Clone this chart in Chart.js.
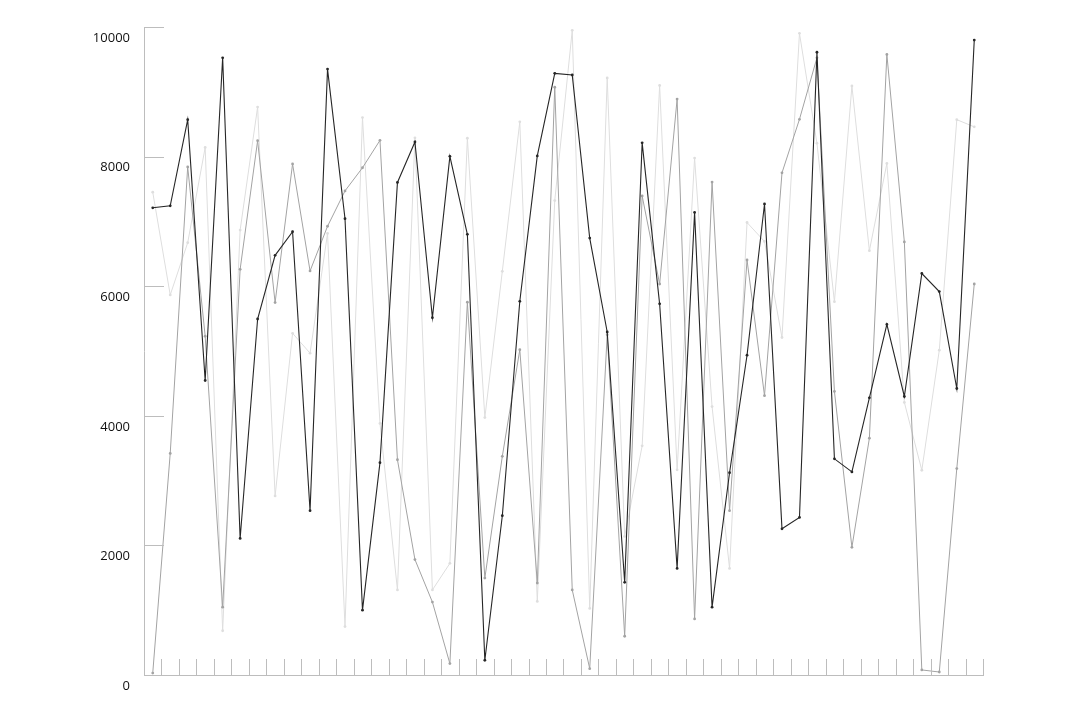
<!DOCTYPE html>
<html>
<head>
<meta charset="utf-8">
<script src="https://cdn.jsdelivr.net/npm/chart.js@4/dist/chart.umd.min.js"></script>
<style>
  html, body { margin: 0; padding: 0; background: #fff; }
  #wrap { width: 1080px; height: 720px; }
</style>
</head>
<body>
<div id="wrap"><canvas id="lineChart" width="1080" height="720"></canvas></div>
<script>
const categories = ['1', '2', '3', '4', '5', '6', '7', '8', '9', '10', '11', '12',
    '13', '14', '15', '16', '17', '18', '19', '20', '21', '22', '23', '24',
    '25', '26', '27', '28', '29', '30', '31', '32', '33', '34', '35', '36',
    '37', '38', '39', '40', '41', '42', '43', '44', '45', '46', '47', '48'];

const darkSeries = [7210, 7240, 8570, 4545, 9525, 2107, 5494, 6476, 6840, 2536, 9350, 7042,
    1001, 3277, 7601, 8225, 5514, 8004, 6801, 228, 2458, 5767, 8011, 9285,
    9259, 6743, 5293, 1430, 8212, 5728, 1645, 7139, 1047, 3121, 4935, 7269,
    2256, 2432, 9610, 3336, 3134, 4278, 5410, 4298, 6196, 5917, 4421, 9798];

const midSeries = [30, 3420, 7841, 5228, 1047, 6261, 8245, 5748, 7887, 6235, 6925, 7471,
    7828, 8251, 3322, 1782, 1125, 176, 5754, 1495, 3375, 5020, 1418, 9070,
    1313, 98, 5250, 598, 7393, 6034, 8888, 865, 7607, 2536, 6404, 4311,
    7750, 8576, 9525, 4376, 1970, 3654, 9577, 6684, 78, 46, 3186, 6034];

const lightSeries = [7451, 5865, 6671, 8141, 683, 6866, 8765, 2763, 5273, 4967, 6814, 748,
    8602, 3882, 1313, 8290, 1313, 1723, 8283, 3973, 6229, 8537, 1135, 7321,
    9948, 1027, 9214, 2139, 3537, 9097, 3166, 7977, 4142, 1645, 6983, 6690,
    5208, 9902, 8206, 5761, 9090, 6548, 7894, 4207, 3160, 5013, 8570, 8459];

const yTicks = [0, 2000, 4000, 6000, 8000, 10000];

const axisColor = '#bdbdbd';

// short tick marks drawn inward from both axes
const innerTicks = {
    id: 'innerTicks',
    afterDraw(chart) {
        const { ctx, chartArea, scales } = chart;
        ctx.save();
        ctx.strokeStyle = axisColor;
        ctx.lineWidth = 1;
        ctx.beginPath();
        yTicks.forEach(v => {
            const y = Math.round(scales.y.getPixelForValue(v)) + 0.5;
            ctx.moveTo(chartArea.left, y);
            ctx.lineTo(chartArea.left + 20, y);
        });
        const half = (scales.x.getPixelForValue(1) - scales.x.getPixelForValue(0)) / 2;
        for (let i = 0; i <= categories.length; i++) {
            const x = Math.round(scales.x.getPixelForValue(i) - half) + 0.5;
            ctx.moveTo(x, chartArea.bottom);
            ctx.lineTo(x, chartArea.bottom - 16);
        }
        ctx.stroke();
        ctx.restore();
    }
};

function lineSet(label, data, color, width) {
    return {
        label: label,
        data: data,
        borderColor: color,
        backgroundColor: color,
        borderWidth: width,
        pointRadius: 1.4,
        pointBorderWidth: 0,
        pointBackgroundColor: color,
        tension: 0,
        fill: false
    };
}

const ctx = document.getElementById('lineChart').getContext('2d');
new Chart(ctx, {
    type: 'line',
    data: {
        labels: categories,
        datasets: [
            lineSet('A', darkSeries, '#262626', 1.1),
            lineSet('B', midSeries, '#a3a3a3', 1),
            lineSet('C', lightSeries, '#dedede', 1)
        ]
    },
    options: {
        responsive: false,
        animation: false,
        layout: { padding: { left: 0, top: 27, right: 97, bottom: 45 } },
        plugins: {
            legend: { display: false },
            tooltip: { enabled: false }
        },
        scales: {
            x: {
                offset: true,
                grid: { display: false, drawTicks: false },
                border: { display: true, color: axisColor, width: 1 },
                ticks: { display: false }
            },
            y: {
                min: 0,
                max: 10000,
                afterFit(scale) { scale.width = 144; },
                afterBuildTicks(scale) { scale.ticks = yTicks.map(v => ({ value: v })); },
                grid: { display: false, drawTicks: false },
                border: { display: true, color: axisColor, width: 1 },
                ticks: {
                    padding: 14,
                    labelOffset: 11,
                    color: '#111',
                    font: { family: 'Open Sans', size: 13 },
                    callback: v => String(v)
                }
            }
        }
    },
    plugins: [innerTicks]
});
</script>
</body>
</html>
